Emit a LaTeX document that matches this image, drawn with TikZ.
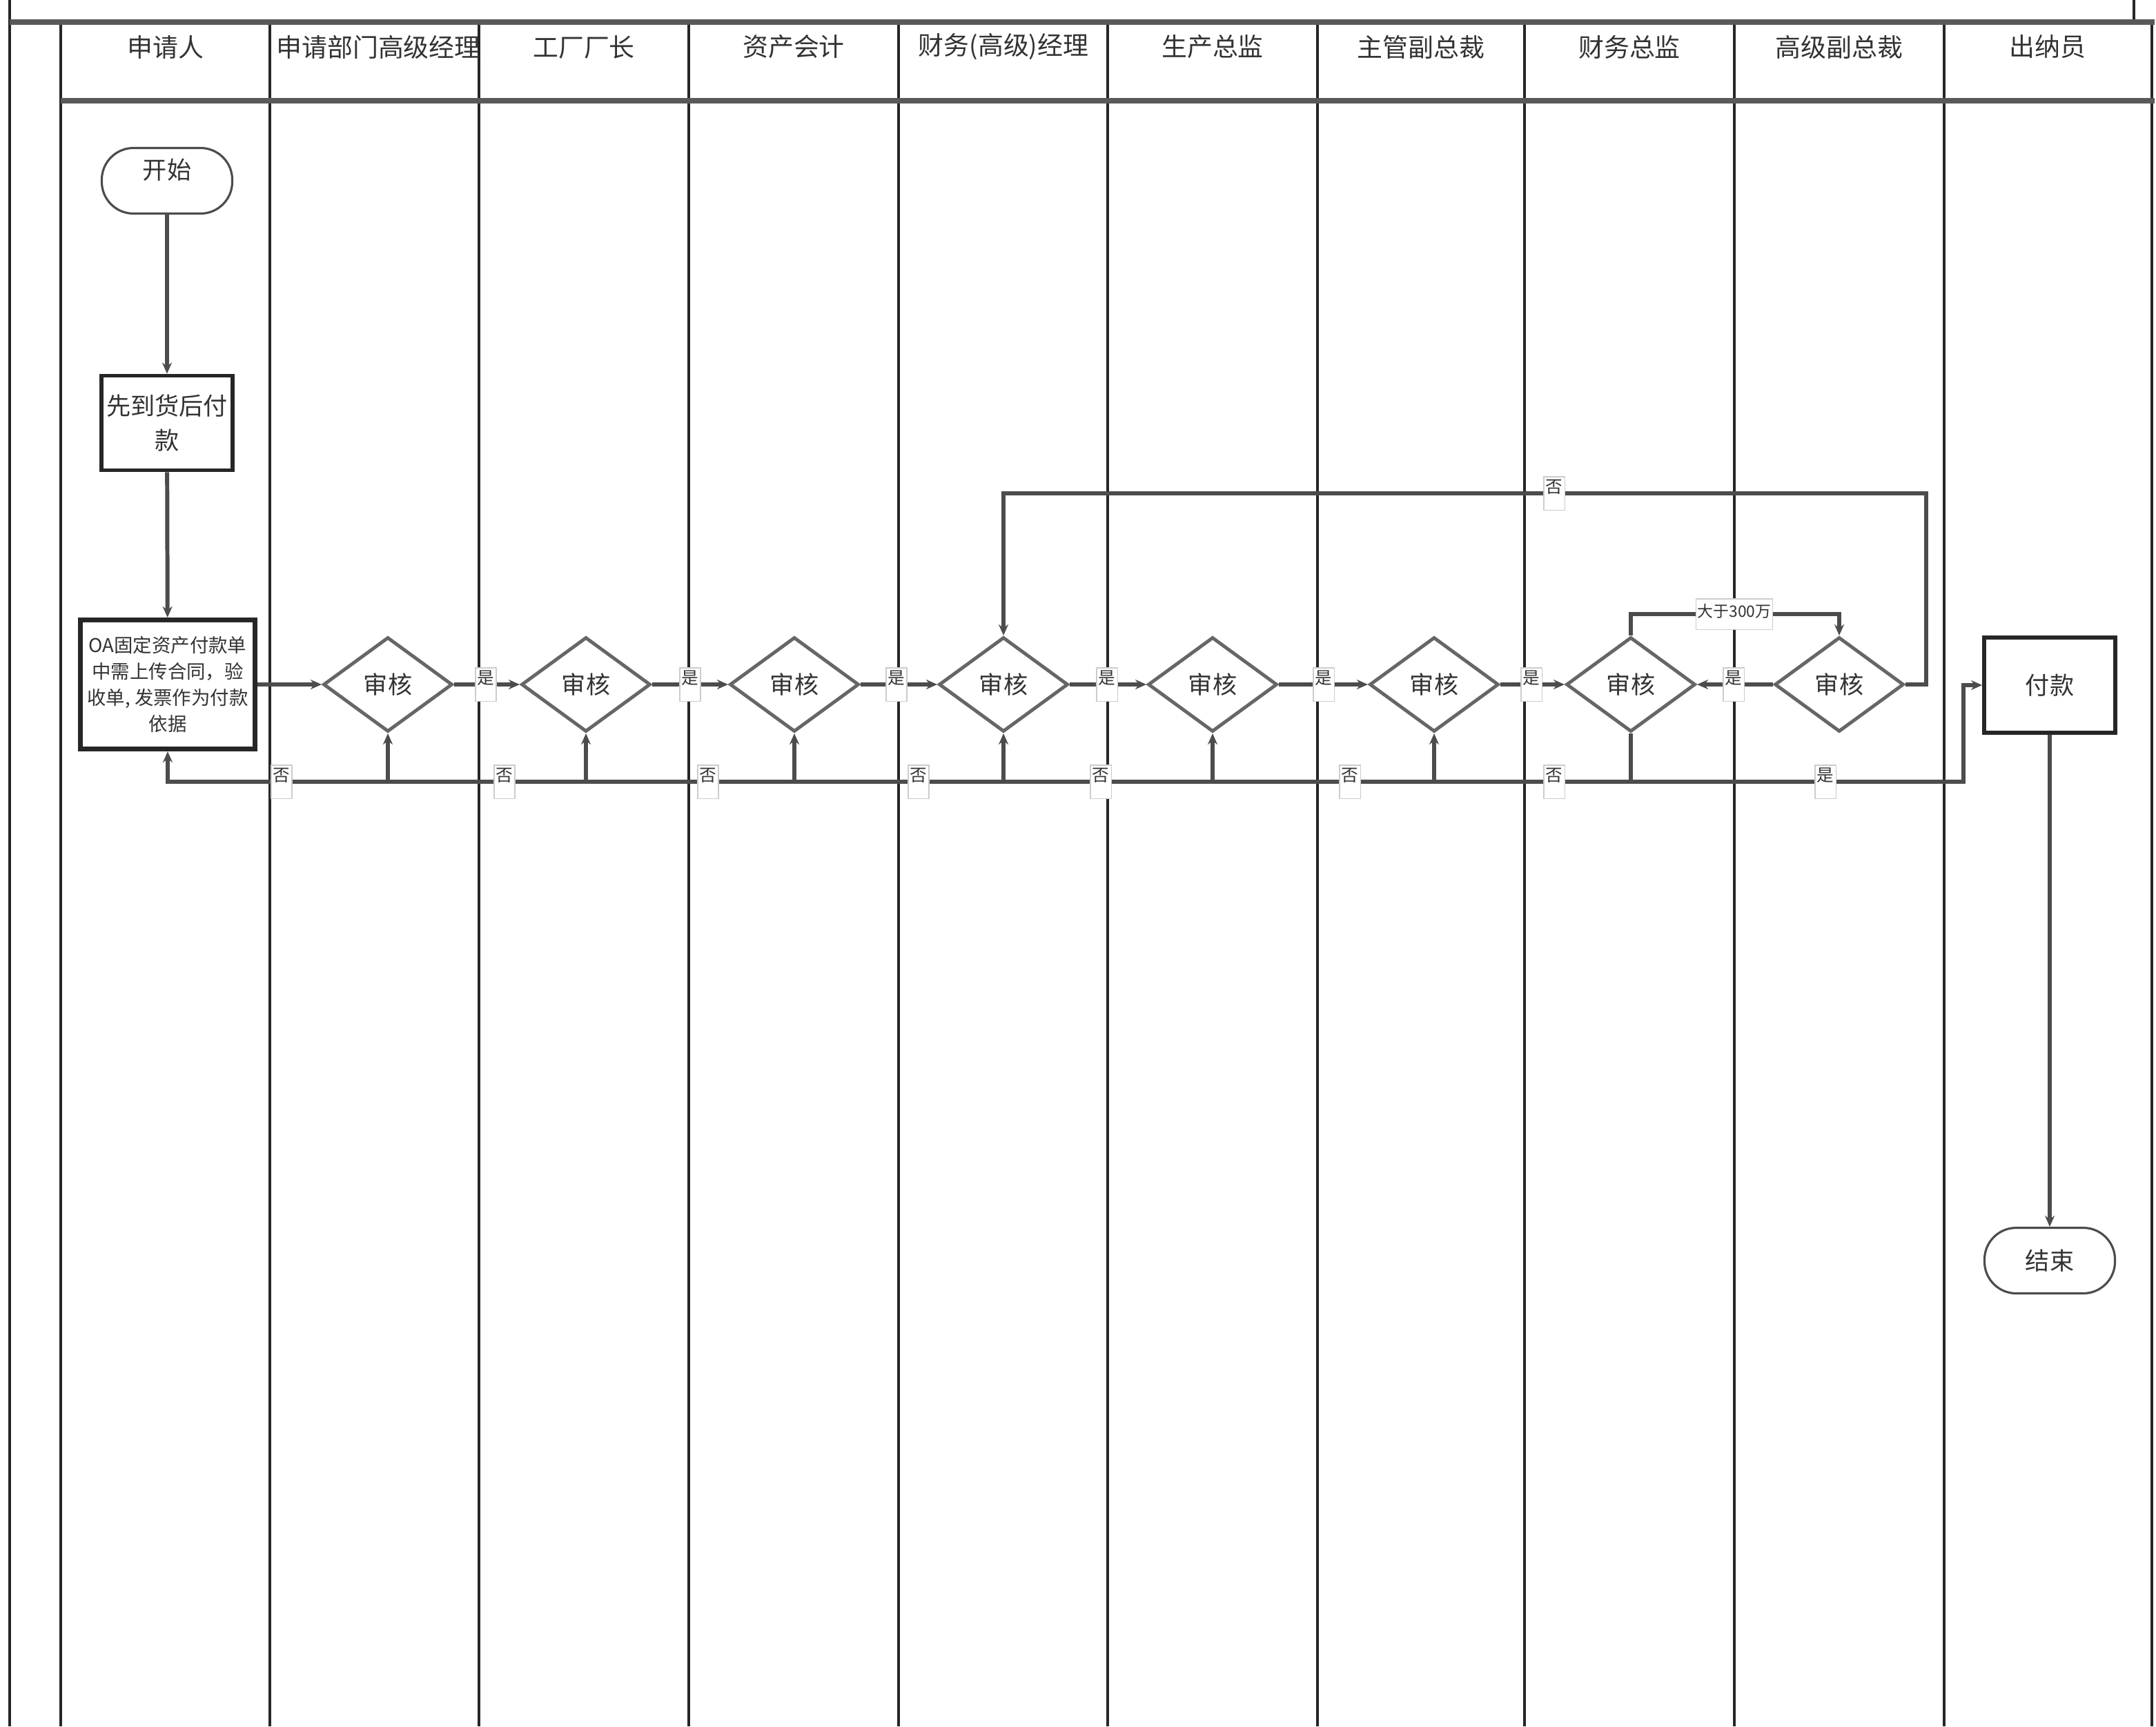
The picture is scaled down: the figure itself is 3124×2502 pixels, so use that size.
\documentclass[tikz,border=0pt]{standalone}
\usepackage{fontspec}
\setmainfont{Noto Sans CJK SC}
\usepackage{tikz}
\usetikzlibrary{arrows.meta, shapes.geometric}
\definecolor{inkgray}{rgb}{0.30,0.30,0.30}

\begin{document}
\begin{tikzpicture}[
  x=0.01cm, y=-0.01cm,
  every node/.style={text=black!80},
  lane/.style={line width=0.9pt, black!85},
  rule/.style={line width=2.2pt, black!65},
  head/.style={font=\fontsize{10.5}{12}\selectfont},
  term/.style={
    draw=black!70, line width=0.9pt, rounded corners=0.46cm,
    minimum width=1.89cm, minimum height=0.95cm, inner sep=0pt,
    font=\fontsize{10}{12}\selectfont
  },
  proc/.style={
    draw=black!85, line width=1.6pt, align=center, inner sep=0pt,
    font=\fontsize{10}{14}\selectfont
  },
  chk/.style={
    diamond, draw=black!60, line width=1.4pt,
    minimum width=1.87cm, minimum height=1.37cm, inner sep=0pt,
    font=\fontsize{10}{12}\selectfont
  },
  lbl/.style={
    fill=white, draw=black!20, line width=0.3pt, inner sep=0.6pt,
    minimum width=0.3cm, minimum height=0.48cm, text depth=0.2cm,
    font=\fontsize{7}{8}\selectfont
  },
  conn/.style={line width=1.7pt, inkgray},
  arr/.style={conn, -{Stealth[length=0.16cm, width=0.14cm]}},
]
\useasboundingbox (0,0) rectangle (3124,2502);

%% ---- Frame and swimlanes ----
\draw[lane] (14,0) -- (14,2502);
\draw[lane] (3092,0) -- (3092,32);
\draw[lane] (88,32) -- (88,2502);
\draw[lane] (391,32) -- (391,2502);
\draw[lane] (694,32) -- (694,2502);
\draw[lane] (998,32) -- (998,2502);
\draw[lane] (1302,32) -- (1302,2502);
\draw[lane] (1605,32) -- (1605,2502);
\draw[lane] (1909,32) -- (1909,2502);
\draw[lane] (2209,32) -- (2209,2502);
\draw[lane] (2513,32) -- (2513,2502);
\draw[lane] (2817,32) -- (2817,2502);
\draw[lane] (3118,32) -- (3118,2502);
\draw[rule] (14,32) -- (3122,32);
\draw[rule] (88,146) -- (3122,146);

%% ---- Lane titles ----
\node[head] (h1)  at (240,68)  {申请人};
\node[head] (h2)  at (548,68)  {申请部门高级经理};
\node[head] (h3)  at (846,68)  {工厂厂长};
\node[head] (h4)  at (1150,68) {资产会计};
\node[head] (h5)  at (1454,68) {财务(高级)经理};
\node[head] (h6)  at (1757,68) {生产总监};
\node[head] (h7)  at (2059,68) {主管副总裁};
\node[head] (h8)  at (2361,68) {财务总监};
\node[head] (h9)  at (2665,68) {高级副总裁};
\node[head] (h10) at (2967,68) {出纳员};

%% ---- Applicant ----
\node[term, text depth=0.35cm] (start) at (242,262) {开始};
\node[proc, minimum width=1.9cm, minimum height=1.37cm] (pre) at (242,613)
  {先到货后付\\款};
\node[proc, line width=2pt, minimum width=2.52cm, minimum height=1.87cm,
      font=\fontsize{7.8}{10.8}\selectfont] (oa) at (243,992)
  {OA固定资产付款单\\中需上传合同，验\\收单, 发票作为付款\\依据};
\draw[arr] (start) -- (pre);
\draw[arr] (pre) -- (oa);

%% ---- Approval chain ----
\node[chk] (c1) at (562,992)  {审核};
\node[chk] (c2) at (849,992)  {审核};
\node[chk] (c3) at (1151,992) {审核};
\node[chk] (c4) at (1454,992) {审核};
\node[chk] (c5) at (1757,992) {审核};
\node[chk] (c6) at (2078,992) {审核};
\node[chk] (c7) at (2363,992) {审核};
\node[chk] (c8) at (2665,992) {审核};

\draw[arr] (oa.east) -- (c1.west);
\draw[arr] (c1.east) -- (c2.west);
\draw[arr] (c2.east) -- (c3.west);
\draw[arr] (c3.east) -- (c4.west);
\draw[arr] (c4.east) -- (c5.west);
\draw[arr] (c5.east) -- (c6.west);
\draw[arr] (c6.east) -- (c7.west);
\draw[arr] (c8.west) -- (c7.east);

%% ---- Cashier ----
\node[proc, minimum width=1.9cm, minimum height=1.38cm] (pay) at (2970,993) {付款};
\node[term] (fin) at (2970,1827) {结束};
\draw[arr] (pay.south) -- (fin.north);

%% ---- Return and pay paths ----
\coordinate (turn) at (2845,1133);
\coordinate (loop) at (2791,715);
\coordinate (big)  at (2513,890);
\draw[arr] (c7.south) |- (turn) |- (pay.west);
\draw[arr] (c7 |- turn) -| (oa.south);
\draw[arr] (c1 |- turn) -- (c1.south);
\draw[arr] (c2 |- turn) -- (c2.south);
\draw[arr] (c3 |- turn) -- (c3.south);
\draw[arr] (c4 |- turn) -- (c4.south);
\draw[arr] (c5 |- turn) -- (c5.south);
\draw[arr] (c6 |- turn) -- (c6.south);
\draw[arr] (c8.east) -| (loop) -| (c4.north);
\draw[arr] (c7.north) |- (big) -| (c8.north);

%% ---- Branch labels ----
\node[lbl] (y1) at (704,992)  {是};
\node[lbl] (y2) at (1000,992) {是};
\node[lbl] (y3) at (1299,992) {是};
\node[lbl] (y4) at (1604,992) {是};
\node[lbl] (y5) at (1918,992) {是};
\node[lbl] (y6) at (2219,992) {是};
\node[lbl] (y7) at (2512,992) {是};
\node[lbl] (y8) at (2645,1133) {是};
\node[lbl] (n1) at (408,1133)  {否};
\node[lbl] (n2) at (731,1133)  {否};
\node[lbl] (n3) at (1026,1133) {否};
\node[lbl] (n4) at (1331,1133) {否};
\node[lbl] (n5) at (1595,1133) {否};
\node[lbl] (n6) at (1956,1133) {否};
\node[lbl] (n7) at (2252,1133) {否};
\node[lbl] (n8) at (2252,715)  {否};
\node[lbl, text depth=0.1cm, minimum height=0.44cm, font=\fontsize{6.5}{7}\selectfont]
  (gt) at (big) {大于300万};

\end{tikzpicture}
\end{document}
